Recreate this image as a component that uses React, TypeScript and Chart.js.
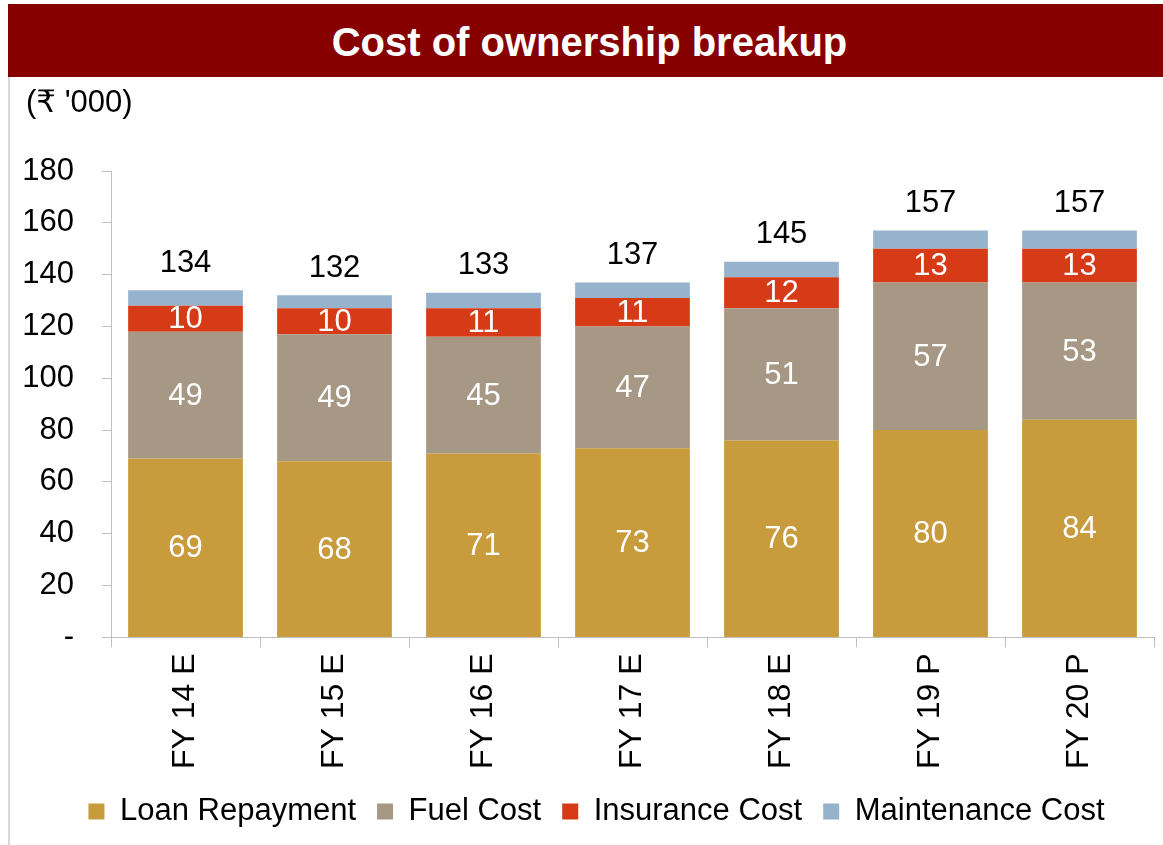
import React, { useEffect, useRef } from 'react';
import { Chart, registerables } from 'chart.js';

Chart.register(...registerables);

const categories = ['FY 14 E', 'FY 15 E', 'FY 16 E', 'FY 17 E', 'FY 18 E', 'FY 19 P', 'FY 20 P'];
const loanRepayment = [69, 68, 71, 73, 76, 80, 84];
const fuelCost = [49, 49, 45, 47, 51, 57, 53];
const insuranceCost = [10, 10, 11, 11, 12, 13, 13];
const maintenanceCost = [6, 5, 6, 6, 6, 7, 7];
const totals = [134, 132, 133, 137, 145, 157, 157];
const yTickValues = [0, 20, 40, 60, 80, 100, 120, 140, 160, 180];

const FONT = '"Liberation Sans", Arial, "DejaVu Sans", sans-serif';

const labelPlugin = {
  id: 'segmentLabels',
  afterLayout(chart: any) {
    if (chart.legend) {
      chart.legend.left += 8;
      chart.legend.right += 8;
    }
  },
  afterDatasetsDraw(chart: any) {
    const ctx = chart.ctx;
    ctx.save();
    ctx.font = `31px ${FONT}`;
    ctx.textAlign = 'center';
    ctx.textBaseline = 'middle';
    for (let d = 0; d < 3; d++) {
      const meta = chart.getDatasetMeta(d);
      const data = chart.data.datasets[d].data as number[];
      meta.data.forEach((el: any, i: number) => {
        const p = el.getCenterPoint();
        ctx.fillStyle = '#ffffff';
        ctx.fillText(String(data[i]), p.x, p.y + 1);
      });
    }
    const top = chart.getDatasetMeta(3);
    top.data.forEach((el: any, i: number) => {
      ctx.fillStyle = '#000000';
      ctx.fillText(String(totals[i]), el.x, el.y - 27);
    });
    ctx.restore();
  },
};

export default function App() {
  const ref = useRef<HTMLCanvasElement | null>(null);

  useEffect(() => {
    if (!ref.current) return;
    const chart = new Chart(ref.current, {
      type: 'bar',
      data: {
        labels: categories,
        datasets: [
          { label: 'Loan Repayment', data: loanRepayment, backgroundColor: '#C89B3C' },
          { label: 'Fuel Cost', data: fuelCost, backgroundColor: '#A69885' },
          { label: 'Insurance Cost', data: insuranceCost, backgroundColor: '#D63A16' },
          { label: 'Maintenance Cost', data: maintenanceCost, backgroundColor: '#96B3CE' },
        ],
      },
      options: {
        responsive: false,
        animation: false,
        layout: { padding: { left: 13, right: 9, top: 94, bottom: 8 } },
        datasets: { bar: { categoryPercentage: 1, barPercentage: 0.77 } },
        plugins: {
          tooltip: { enabled: false },
          title: { display: false },
          legend: {
            position: 'bottom',
            labels: {
              boxWidth: 16,
              boxHeight: 16,
              padding: 21,
              color: '#000',
              font: { family: FONT, size: 31 },
            },
          },
        },
        scales: {
          x: {
            stacked: true,
            grid: { drawOnChartArea: false, tickLength: 10, color: '#bfbfbf', offset: true },
            border: { color: '#bfbfbf', width: 1 },
            ticks: {
              minRotation: 90,
              maxRotation: 90,
              padding: 6,
              color: '#000',
              font: { family: FONT, size: 32 },
            },
          },
          y: {
            stacked: true,
            min: 0,
            max: 180,
            afterBuildTicks(axis: any) {
              axis.ticks = yTickValues.map((v) => ({ value: v }));
            },
            afterFit(axis: any) {
              axis.width = 88;
            },
            grid: { drawOnChartArea: false, tickLength: 9, color: '#bfbfbf' },
            border: { color: '#bfbfbf', width: 1 },
            ticks: {
              padding: 28,
              color: '#000',
              font: { family: FONT, size: 31 },
              callback: (v: any) => (Number(v) === 0 ? '-' : String(v)),
            },
          },
        },
      },
      plugins: [labelPlugin],
    } as any);
    return () => chart.destroy();
  }, []);

  return (
    <div style={{ position: 'fixed', left: 8, top: 4, width: 1155, height: 841, background: '#fff' }}>
      <div
        style={{
          position: 'absolute',
          left: 0,
          top: 0,
          width: 1155,
          height: 73,
          background: '#870000',
          color: '#fff',
          fontFamily: FONT,
          fontWeight: 'bold',
          fontSize: 40,
          lineHeight: '76px',
          textAlign: 'center',
          paddingLeft: 8,
          boxSizing: 'border-box',
        }}
      >
        Cost of ownership breakup
      </div>
      <div
        style={{
          position: 'absolute',
          left: 0,
          top: 73,
          width: 2,
          bottom: 0,
          background: '#d9d9d9',
        }}
      />
      <canvas ref={ref} width={1153} height={768} style={{ position: 'absolute', left: 2, top: 73, display: 'block' }} />
      <div
        style={{
          position: 'absolute',
          left: 18,
          top: 81,
          fontFamily: FONT,
          fontSize: 31,
          lineHeight: '34px',
          color: '#000',
          whiteSpace: 'nowrap',
        }}
      >
        (₹ '000)
      </div>
    </div>
  );
}
